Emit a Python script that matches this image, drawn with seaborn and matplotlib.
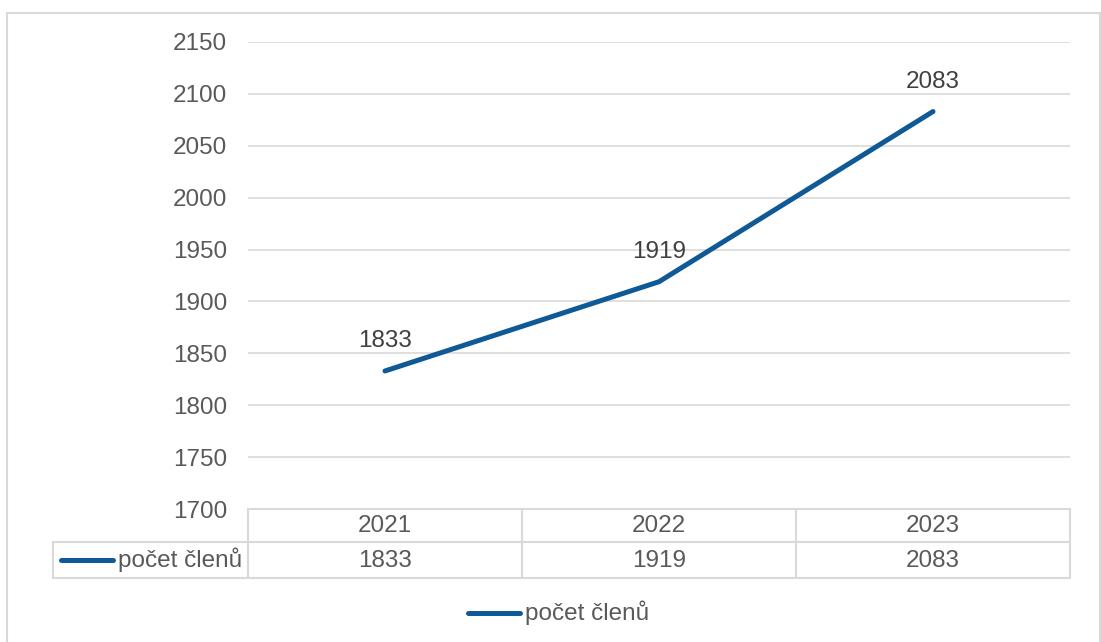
import matplotlib
matplotlib.use("Agg")
import matplotlib.pyplot as plt
import seaborn as sns
import pandas as pd
from matplotlib.lines import Line2D
from matplotlib.patches import Rectangle

years = ["2021", "2022", "2023"]
members = [1833, 1919, 2083]
series_name = "počet členů"
y_ticks = [1700, 1750, 1800, 1850, 1900, 1950, 2000, 2050, 2100, 2150]

sns.set_theme(style="white")
plt.rcParams["font.family"] = ["Liberation Sans", "DejaVu Sans"]

W, H = 1101, 642
fig = plt.figure(figsize=(W / 100, H / 100), dpi=100)

def fx(px):
    return px / W

def fy(py):
    return 1 - py / H

ax_l, ax_r, ax_t, ax_b = 248, 1070, 42, 509
ax = fig.add_axes([fx(ax_l), fy(ax_b), fx(ax_r - ax_l), (ax_b - ax_t) / H])

LINE_C = "#0F5A96"
GRID_C = "#D9D9D9"
TICK_C = "#595959"
LABEL_C = "#404040"
FS = 17.5

df = pd.DataFrame({"pos": range(len(years)), "year": years, "val": members})
sns.lineplot(data=df, x="pos", y="val", ax=ax, color=LINE_C, linewidth=3.6,
             solid_capstyle="round", legend=False)

ax.set_xlim(-0.5, len(years) - 0.5)
ax.set_ylim(y_ticks[0], y_ticks[-1])
ax.set_yticks(y_ticks)
ax.set_yticklabels([str(t) for t in y_ticks], color=TICK_C, fontsize=FS)
ax.tick_params(axis="y", length=0, pad=15)
ax.set_xticks([])
ax.set_xlabel("")
ax.set_ylabel("")
for sp in ax.spines.values():
    sp.set_visible(False)
ax.grid(axis="y", color=GRID_C, linewidth=1.2)
ax.set_axisbelow(True)

for i, v in enumerate(members):
    ax.annotate(str(v), (i, v), xytext=(0, 13.5), textcoords="offset points",
                ha="center", va="bottom", fontsize=FS, color=LABEL_C)

# data table below the axis
ax_h = ax_b - ax_t
r1_b = 542
r2_b = 578
left_px = 53

def ay(py):
    return -(py - ax_b) / ax_h

tr = ax.get_xaxis_transform()
lw = 1.5
ax.add_line(Line2D([-0.5, len(years) - 0.5], [0, 0], transform=tr, color=GRID_C, lw=lw, clip_on=False))
fig.add_artist(Line2D([fx(left_px), fx(ax_r)], [fy(r1_b), fy(r1_b)], color=GRID_C, lw=lw))
fig.add_artist(Line2D([fx(left_px), fx(ax_r)], [fy(r2_b), fy(r2_b)], color=GRID_C, lw=lw))
for k in range(len(years) + 1):
    ax.add_line(Line2D([k - 0.5, k - 0.5], [0, ay(r2_b)], transform=tr, color=GRID_C, lw=lw, clip_on=False))
fig.add_artist(Line2D([fx(left_px), fx(left_px)], [fy(r1_b), fy(r2_b)], color=GRID_C, lw=lw))

for i, (yr, v) in enumerate(zip(years, members)):
    ax.text(i, ay((ax_b + r1_b) / 2 + 1), yr, transform=tr, ha="center", va="center",
            fontsize=FS, color=TICK_C, clip_on=False)
    ax.text(i, ay((r1_b + r2_b) / 2 + 1), str(v), transform=tr, ha="center", va="center",
            fontsize=FS, color=TICK_C, clip_on=False)

ym = fy((r1_b + r2_b) / 2)
fig.add_artist(Line2D([fx(61), fx(113)], [ym, ym], color=LINE_C, lw=3.6, solid_capstyle="round"))
fig.text(fx(118), ym, series_name, ha="left", va="center", fontsize=FS, color=TICK_C)

yl = fy(613)
fig.add_artist(Line2D([fx(468), fx(520)], [yl, yl], color=LINE_C, lw=3.6, solid_capstyle="round"))
fig.text(fx(525), yl, series_name, ha="left", va="center", fontsize=FS, color=TICK_C)

fig.add_artist(Rectangle((fx(7), fy(660)), fx(1100 - 7), (660 - 13) / H,
                         fill=False, edgecolor=GRID_C, lw=1.5, transform=fig.transFigure))

fig.savefig("out.png", dpi=100)
